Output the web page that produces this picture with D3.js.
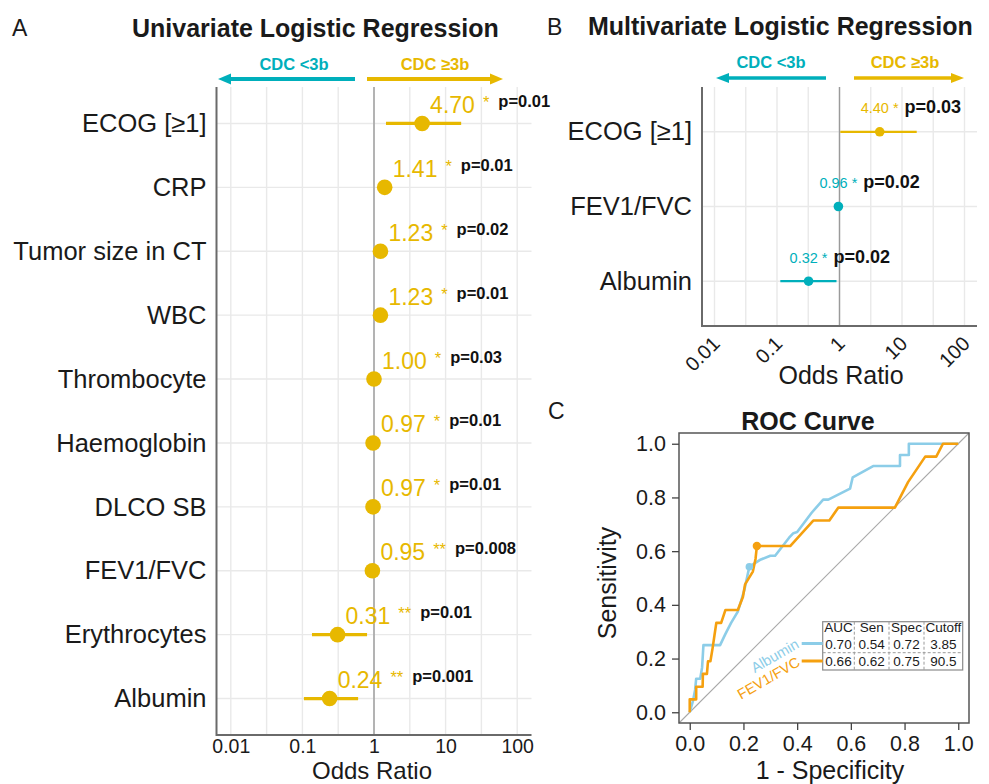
<!DOCTYPE html>
<html><head><meta charset="utf-8">
<script src="https://cdn.jsdelivr.net/npm/d3@7"></script>
<style>
body{margin:0;background:#fff;}
svg text{font-family:"Liberation Sans",Arial,Helvetica,sans-serif;}
</style></head>
<body>
<svg id="chart" width="989" height="784"></svg>
<script>
// ---------------- DATA ----------------
const uniVars  = ["ECOG [≥1]","CRP","Tumor size in CT","WBC","Thrombocyte","Haemoglobin","DLCO SB","FEV1/FVC","Erythrocytes","Albumin"];
const uniOR    = [4.70,1.41,1.23,1.23,1.00,0.97,0.97,0.95,0.31,0.24];
const uniLow   = [1.47,1.22,1.08,1.08,0.99,0.95,0.95,0.92,0.136,0.105];
const uniHigh  = [16.5,1.63,1.40,1.40,1.01,0.99,0.99,0.98,0.80,0.60];
const uniStars = ["*","*","*","*","*","*","*","**","**","**"];
const uniP     = ["p=0.01","p=0.01","p=0.02","p=0.01","p=0.03","p=0.01","p=0.01","p=0.008","p=0.01","p=0.001"];

const multiVars  = ["ECOG [≥1]","FEV1/FVC","Albumin"];
const multiOR    = [4.40,0.96,0.32];
const multiLow   = [1.03,0.93,0.113];
const multiHigh  = [17.2,0.99,0.895];
const multiStars = ["*","*","*"];
const multiP     = ["p=0.03","p=0.02","p=0.02"];

const orTicks = [0.01,0.1,1,10,100];
const orTickLabels = ["0.01","0.1","1","10","100"];

const albFPR = [0,0.012,0.02,0.024,0.039,0.046,0.051,0.113,0.133,0.154,0.179,0.192,0.204,0.213,0.222,0.265,0.3,0.318,0.37,0.386,0.4,0.454,0.497,0.516,0.597,0.607,0.683,0.783,0.783,0.816,0.816,1.0];
const albTPR = [0,0.042,0.083,0.125,0.125,0.167,0.25,0.25,0.292,0.333,0.375,0.417,0.458,0.5,0.542,0.569,0.583,0.583,0.65,0.667,0.671,0.743,0.792,0.792,0.833,0.875,0.917,0.917,0.958,0.958,1.0,1.0];
const fevFPR = [0,0,0.024,0.024,0.048,0.049,0.064,0.068,0.077,0.085,0.092,0.099,0.117,0.133,0.179,0.198,0.206,0.235,0.245,0.25,0.374,0.46,0.52,0.553,0.764,0.813,0.877,0.918,0.943,1.0];
const fevTPR = [0,0.048,0.048,0.095,0.095,0.143,0.143,0.19,0.19,0.238,0.286,0.333,0.333,0.381,0.381,0.429,0.476,0.524,0.571,0.619,0.619,0.714,0.714,0.762,0.762,0.857,0.952,0.952,1.0,1.0];
const albCut = [0.222,0.542];
const fevCut = [0.25,0.619];
const rocTicks = [0,0.2,0.4,0.6,0.8,1.0];
const rocTickLabels = ["0.0","0.2","0.4","0.6","0.8","1.0"];
const tableHeader = ["AUC","Sen","Spec","Cutoff"];
const tableAlb = ["0.70","0.54","0.72","3.85"];
const tableFev = ["0.66","0.62","0.75","90.5"];
const rocNames = ["Albumin","FEV1/FVC"];

// ---------------- STYLE ----------------
const GOLD = "#E7B800", TEAL = "#00AFBB", DARK = "#1a1a1a";
const ALB_C = "#8CCDE8", FEV_C = "#F5A00F";
const svg = d3.select("#chart");
const orDomain = [Math.pow(10,-2.2), Math.pow(10,2.2)];
const orMinor = orTicks.slice(0,-1).map(t => t*Math.sqrt(10));

function arrow(g, x1, x2, y, color, w, headL, headW) {
  const dir = Math.sign(x2 - x1);
  g.append("line").attr("x1", x1).attr("x2", x2 - dir*headL*0.8).attr("y1", y).attr("y2", y)
    .attr("stroke", color).attr("stroke-width", w);
  g.append("path").attr("d", `M${x2},${y} L${x2-dir*headL},${y-headW/2} L${x2-dir*headL},${y+headW/2} Z`)
    .attr("fill", color);
}

function forest(cfg) {
  const g = svg.append("g");
  const x = d3.scaleLog().domain(orDomain).range([cfg.left, cfg.right]);
  const y = d3.scalePoint().domain(cfg.vars).range([cfg.top, cfg.bottom]).padding(cfg.pad);
  // grid
  g.selectAll(null).data(orTicks.concat(orMinor)).join("line")
    .attr("x1", d => x(d)).attr("x2", d => x(d)).attr("y1", cfg.top).attr("y2", cfg.bottom)
    .attr("stroke", "#E9E9E9").attr("stroke-width", 1.4);
  g.selectAll(null).data(cfg.vars).join("line")
    .attr("x1", cfg.left).attr("x2", cfg.right).attr("y1", d => y(d)).attr("y2", d => y(d))
    .attr("stroke", "#E9E9E9").attr("stroke-width", 1.4);
  // reference line
  g.append("line").attr("x1", x(1)).attr("x2", x(1)).attr("y1", cfg.top).attr("y2", cfg.bottom)
    .attr("stroke", "#9a9a9a").attr("stroke-width", 1.4);
  // axes
  const xa = g.append("g").attr("transform", `translate(0,${cfg.bottom})`)
    .call(d3.axisBottom(x).tickValues(orTicks).tickFormat((d,i) => orTickLabels[i]).tickSize(0).tickPadding(4));
  xa.select(".domain").remove();
  xa.selectAll("text").attr("font-size", cfg.tickSize).attr("fill", DARK).style("font-family", "Liberation Sans, Arial, sans-serif");
  if (cfg.rotate) {
    xa.selectAll("text").attr("y", 0).attr("dy", 0).attr("text-anchor", "end")
      .attr("transform", "translate(6,19) rotate(-45)");
  }
  const ya = g.append("g").attr("transform", `translate(${cfg.left},0)`)
    .call(d3.axisLeft(y).tickSize(0).tickPadding(cfg.ypad));
  ya.select(".domain").remove();
  ya.selectAll("text").attr("font-size", 25.5).attr("fill", DARK).style("font-family", "Liberation Sans, Arial, sans-serif");
  // axis lines
  g.append("line").attr("x1", cfg.left).attr("x2", cfg.left).attr("y1", cfg.top).attr("y2", cfg.bottom + 1)
    .attr("stroke", "#6a6a6a").attr("stroke-width", 2);
  g.append("line").attr("x1", cfg.left).attr("x2", cfg.right).attr("y1", cfg.bottom).attr("y2", cfg.bottom)
    .attr("stroke", "#6a6a6a").attr("stroke-width", 2);
  const rows = cfg.vars.map((v,i) => ({v, or: cfg.or[i], lo: cfg.lo[i], hi: cfg.hi[i], s: cfg.stars[i], p: cfg.p[i]}));
  const col = d => cfg.colorFn(d);
  // CI
  g.selectAll(null).data(rows).join("line")
    .attr("x1", d => x(d.lo)).attr("x2", d => x(d.hi)).attr("y1", d => y(d.v)).attr("y2", d => y(d.v))
    .attr("stroke", col).attr("stroke-width", cfg.ciW);
  // dots
  g.selectAll(null).data(rows).join("circle")
    .attr("cx", d => x(d.or)).attr("cy", d => y(d.v)).attr("r", cfg.r).attr("fill", col);
  // labels
  const t = g.selectAll(null).data(rows).join("text")
    .attr("x", d => x(d.or) + cfg.lblDx).attr("y", d => y(d.v) + cfg.lblDy)
    .style("white-space", "pre");
  t.append("tspan").text(d => d.or.toFixed(2)).attr("fill", col).attr("font-size", cfg.valSize);
  t.append("tspan").text(d => d.s).attr("fill", col).attr("font-size", cfg.starSize)
    .attr("dx", cfg.starDx).attr("dy", cfg.starDy);
  t.append("tspan").text(d => d.p).attr("fill", "#111").attr("font-size", cfg.pSize).attr("font-weight", "bold")
    .attr("dx", cfg.pDx).attr("dy", cfg.pDy);
  // axis title
  g.append("text").attr("x", cfg.xtX).attr("y", cfg.xtY).attr("text-anchor", "middle")
    .attr("font-size", cfg.xtSize).attr("fill", DARK).text("Odds Ratio");
  return {x, y, g};
}

// ---------------- PANEL A ----------------
svg.append("text").attr("x", 12).attr("y", 36).attr("font-size", 23).attr("fill", DARK).text("A");
svg.append("text").attr("x", 132).attr("y", 37).attr("font-size", 25).attr("font-weight", "bold").attr("fill", DARK)
  .text("Univariate Logistic Regression");
const A = forest({
  vars: uniVars, or: uniOR, lo: uniLow, hi: uniHigh, stars: uniStars, p: uniP,
  left: 216.5, right: 531.5, top: 87, bottom: 735, pad: 0.57, ypad: 10, tickSize: 19.5,
  r: 7.8, ciW: 3.2, colorFn: () => GOLD,
  lblDx: 8, lblDy: -10.5, valSize: 23, starSize: 16.5, starDx: 8, starDy: -5, pSize: 16.5, pDx: 9, pDy: -1,
  xtX: 372, xtY: 778.5, xtSize: 24
});
arrow(A.g, 355, 218, 79, TEAL, 4, 13, 11);
arrow(A.g, 367, 503, 79, GOLD, 4, 13, 11);
A.g.append("text").attr("x", 294).attr("y", 70).attr("text-anchor", "middle").attr("font-size", 16.5)
  .attr("font-weight", "bold").attr("fill", TEAL).text("CDC <3b");
A.g.append("text").attr("x", 435).attr("y", 70).attr("text-anchor", "middle").attr("font-size", 16.5)
  .attr("font-weight", "bold").attr("fill", GOLD).text("CDC ≥3b");

// ---------------- PANEL B ----------------
svg.append("text").attr("x", 547).attr("y", 35).attr("font-size", 23).attr("fill", DARK).text("B");
svg.append("text").attr("x", 588).attr("y", 35).attr("font-size", 25).attr("font-weight", "bold").attr("fill", DARK)
  .text("Multivariate Logistic Regression");
const B = forest({
  vars: multiVars, or: multiOR, lo: multiLow, hi: multiHigh, stars: multiStars, p: multiP,
  left: 702, right: 977, top: 87, bottom: 326, pad: 0.6, ypad: 10, rotate: true, tickSize: 20,
  r: 4.8, ciW: 2.2, colorFn: d => d.or > 1 ? GOLD : TEAL,
  lblDx: -19, lblDy: -18.5, valSize: 14.5, starSize: 14.5, starDx: 4, starDy: 0, pSize: 18, pDx: 6, pDy: 0,
  xtX: 841, xtY: 384, xtSize: 25
});
arrow(B.g, 826, 716, 78, TEAL, 3.6, 13, 10);
arrow(B.g, 854, 964, 78, GOLD, 3.6, 13, 10);
B.g.append("text").attr("x", 771).attr("y", 68).attr("text-anchor", "middle").attr("font-size", 16.5)
  .attr("font-weight", "bold").attr("fill", TEAL).text("CDC <3b");
B.g.append("text").attr("x", 905).attr("y", 68).attr("text-anchor", "middle").attr("font-size", 16.5)
  .attr("font-weight", "bold").attr("fill", GOLD).text("CDC ≥3b");

// ---------------- PANEL C (ROC) ----------------
const C = svg.append("g");
svg.append("text").attr("x", 548).attr("y", 419).attr("font-size", 23).attr("fill", DARK).text("C");
const xc = d3.scaleLinear().domain([-0.04, 1.04]).range([679, 969]);
const yc = d3.scaleLinear().domain([-0.04, 1.04]).range([723, 433]);
C.append("text").attr("x", 808).attr("y", 430).attr("text-anchor", "middle").attr("font-size", 25)
  .attr("font-weight", "bold").attr("fill", DARK).text("ROC Curve");
// diagonal
C.append("line").attr("x1", xc(-0.04)).attr("y1", yc(-0.04)).attr("x2", xc(1.04)).attr("y2", yc(1.04))
  .attr("stroke", "#a8a8a8").attr("stroke-width", 1.1);
const line = d3.line().x(d => xc(d[0])).y(d => yc(d[1]));
C.append("path").datum(albFPR.map((v,i) => [v, albTPR[i]])).attr("d", line)
  .attr("fill", "none").attr("stroke", ALB_C).attr("stroke-width", 2.6).attr("stroke-linejoin", "round");
C.append("path").datum(fevFPR.map((v,i) => [v, fevTPR[i]])).attr("d", line)
  .attr("fill", "none").attr("stroke", FEV_C).attr("stroke-width", 2.6).attr("stroke-linejoin", "round");
C.append("circle").attr("cx", xc(albCut[0])).attr("cy", yc(albCut[1])).attr("r", 3.8).attr("fill", ALB_C);
C.append("circle").attr("cx", xc(fevCut[0])).attr("cy", yc(fevCut[1])).attr("r", 4.2).attr("fill", FEV_C);
// box
C.append("rect").attr("x", 679).attr("y", 433).attr("width", 290).attr("height", 290)
  .attr("fill", "none").attr("stroke", "#555").attr("stroke-width", 1.5);
// axes
const yax = C.append("g").attr("transform", "translate(679,0)")
  .call(d3.axisLeft(yc).tickValues(rocTicks).tickFormat((d,i) => rocTickLabels[i]).tickSize(7).tickPadding(6));
const xax = C.append("g").attr("transform", "translate(0,723)")
  .call(d3.axisBottom(xc).tickValues(rocTicks).tickFormat((d,i) => rocTickLabels[i]).tickSize(7).tickPadding(6));
[yax, xax].forEach(a => {
  a.select(".domain").remove();
  a.selectAll("line").attr("stroke", "#444").attr("stroke-width", 1.3);
  a.selectAll("text").attr("font-size", 21.5).attr("fill", DARK).style("font-family", "Liberation Sans, Arial, sans-serif");
});
C.append("text").attr("x", 830).attr("y", 779).attr("text-anchor", "middle").attr("font-size", 25)
  .attr("fill", DARK).text("1 - Specificity");
C.append("text").attr("transform", "translate(616,583) rotate(-90)").attr("text-anchor", "middle")
  .attr("font-size", 25).attr("fill", DARK).text("Sensitivity");

// table legend
const tb = {x0: 822.7, x1: 962.7, y0: 621.7, y1: 670};
const colEdges = [822.7, 854.3, 889, 924, 962.7];
const rowBase = [632, 649, 666];
const tableRows = [tableHeader, tableAlb, tableFev];
C.append("rect").attr("x", tb.x0).attr("y", tb.y0).attr("width", tb.x1 - tb.x0).attr("height", tb.y1 - tb.y0)
  .attr("fill", "#fff").attr("stroke", "#8a8a8a").attr("stroke-width", 1.2);
colEdges.slice(1, -1).forEach(cx => {
  C.append("line").attr("x1", cx).attr("x2", cx).attr("y1", tb.y0).attr("y2", tb.y1)
    .attr("stroke", "#9a9a9a").attr("stroke-width", 1).attr("stroke-dasharray", "3,2");
});
C.append("line").attr("x1", tb.x0).attr("x2", tb.x1).attr("y1", 652.7).attr("y2", 652.7)
  .attr("stroke", "#9a9a9a").attr("stroke-width", 1).attr("stroke-dasharray", "3,2");
tableRows.forEach((row, ri) => {
  row.forEach((txt, ci) => {
    C.append("text").attr("x", (colEdges[ci] + colEdges[ci+1]) / 2).attr("y", rowBase[ri])
      .attr("text-anchor", "middle").attr("font-size", 13.5).attr("fill", DARK).text(txt);
  });
});
// legend keys
const legY = [643.5, 661];
const legC = [ALB_C, FEV_C];
const legAnchor = [[800, 647], [801, 665]];
rocNames.forEach((nm, i) => {
  C.append("line").attr("x1", 801.7).attr("x2", tb.x0).attr("y1", legY[i]).attr("y2", legY[i])
    .attr("stroke", legC[i]).attr("stroke-width", 3);
  C.append("text").attr("transform", `translate(${legAnchor[i][0]},${legAnchor[i][1]}) rotate(-30)`)
    .attr("text-anchor", "end").attr("font-size", 14.5).attr("fill", legC[i]).text(nm);
});
</script>
</body></html>
